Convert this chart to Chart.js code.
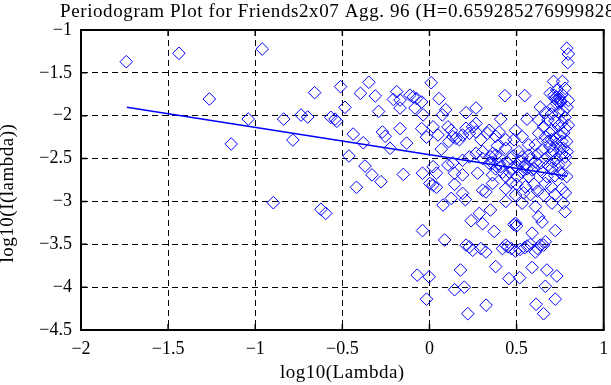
<!DOCTYPE html>
<html>
<head>
<meta charset="utf-8">
<script src="https://cdn.jsdelivr.net/npm/chart.js@4"></script>
<style>
  html, body { margin: 0; padding: 0; background: #fff; }
  #wrap { width: 611px; height: 385px; position: relative; }
</style>
</head>
<body>
<div id="wrap"><canvas id="chart"></canvas></div>
<script>
// periodogram points: log10(lambda) vs log10(I(lambda))
const logLambda = [
  -1.740, -1.438, -1.263, -1.138, -1.040, -0.960, -0.896, -0.837, -0.784, -0.737,
  -0.699, -0.659, -0.623, -0.595, -0.566, -0.542, -0.532, -0.510, -0.485, -0.462,
  -0.438, -0.419, -0.396, -0.380, -0.370, -0.348, -0.330, -0.311, -0.292, -0.278,
  -0.270, -0.254, -0.226, -0.207, -0.188, -0.169, -0.169, -0.169, -0.150, -0.131,
  -0.112, -0.093, -0.083, -0.074, -0.070, -0.045, -0.045, -0.040, -0.040, -0.036,
  -0.017, -0.017, -0.002, 0.010, 0.002, 0.021, 0.021, 0.020, 0.040, 0.040,
  0.049, 0.055, 0.068, 0.074, 0.078, 0.087, 0.093, 0.106, 0.106, 0.111,
  0.125, 0.125, 0.134, 0.134, 0.144, 0.144, 0.144, 0.153, 0.172, 0.178,
  0.190, 0.190, 0.190, 0.190, 0.200, 0.206, 0.210, 0.210, 0.210, 0.220,
  0.229, 0.229, 0.229, 0.239, 0.248, 0.248, 0.267, 0.267, 0.267, 0.267,
  0.276, 0.286, 0.295, 0.295, 0.305, 0.305, 0.305, 0.305, 0.325, 0.324,
  0.324, 0.333, 0.343, 0.343, 0.350, 0.352, 0.362, 0.362, 0.362, 0.371,
  0.380, 0.380, 0.380, 0.400, 0.400, 0.409, 0.409, 0.419, 0.433, 0.438,
  0.438, 0.438, 0.438, 0.438, 0.438, 0.456, 0.466, 0.475, 0.485, 0.485,
  0.494, 0.494, 0.494, 0.500, 0.494, 0.504, 0.513, 0.518, 0.532, 0.532,
  0.532, 0.541, 0.546, 0.547, 0.551, 0.560, 0.570, 0.570, 0.570, 0.589,
  0.589, 0.589, 0.608, 0.608, 0.608, 0.608, 0.612, 0.627, 0.627, 0.627,
  0.636, 0.636, 0.646, 0.646, 0.646, 0.655, 0.655, 0.655, 0.655, 0.665,
  0.665, 0.665, 0.665, 0.665, 0.665, 0.674, 0.674, 0.693, 0.693, 0.703,
  0.703, 0.703, 0.712, 0.712, 0.712, 0.722, 0.722, 0.722, 0.722, 0.731,
  0.731, 0.750, 0.750, 0.750, 0.759, 0.759, 0.763, 0.769, 0.769, 0.769,
  0.778, 0.778, 0.778, 0.778, 0.788, 0.788, 0.788, 0.794, 0.797, 0.797,
  0.797, 0.715, 0.727, 0.735, 0.745, 0.760, 0.730, 0.755, 0.450, 0.480,
  0.520, 0.550, 0.580, 0.600, 0.620, 0.460, 0.500, 0.530, 0.560, 0.640,
  0.680, 0.700, 0.730, 0.740, 0.760, 0.720, 0.780, 0.400, 0.420, 0.380,
  0.360, 0.390, 0.680, 0.700, 0.730, 0.750, 0.760, 0.770, 0.780, 0.790,
  0.710, 0.740, 0.690, 0.700, 0.720, 0.740, 0.760, 0.680, 0.790, 0.600,
  0.620, 0.700, 0.720, 0.780, 0.580, 0.500, 0.470, 0.540, 0.450, 0.470,
  0.520, 0.560, 0.580, 0.620
];
const logPower = [
  -1.370, -1.272, -1.805, -2.330, -2.039, -1.222, -3.015, -2.039, -2.284, -1.992,
  -2.015, -1.731, -3.092, -3.139, -2.019, -2.040, -2.065, -1.661, -1.902, -2.470,
  -2.214, -2.835, -1.739, -2.315, -2.587, -1.610, -2.690, -1.770, -1.950, -2.770,
  -2.190, -2.240, -2.380, -1.810, -1.720, -1.817, -1.910, -2.150, -2.685, -2.320,
  -1.760, -1.780, -1.910, -1.800, -3.860, -1.840, -2.150, -2.670, -3.340, -1.990,
  -2.250, -4.140, -3.880, -1.615, -2.790, -2.130, -2.595, -2.810, -2.835, -2.670,
  -2.225, -1.800, -2.390, -1.990, -3.042, -3.450, -1.930, -2.130, -2.575, -2.300,
  -2.170, -2.964, -2.245, -2.550, -2.670, -2.800, -4.030, -2.264, -2.280, -3.800,
  -2.225, -2.520, -2.690, -2.906, -4.000, -2.980, -1.965, -2.147, -3.510, -4.310,
  -2.205, -2.480, -3.530, -3.225, -2.130, -3.570, -1.910, -2.090, -2.190, -2.440,
  -2.670, -3.140, -2.280, -3.550, -2.420, -2.500, -2.870, -3.260, -4.210, -2.890,
  -3.590, -2.205, -2.170, -2.555, -3.100, -2.480, -2.440, -2.690, -2.790, -3.350,
  -2.240, -2.460, -3.760, -2.190, -2.480, -2.040, -2.595, -3.550, -1.766, -2.280,
  -2.380, -2.710, -2.850, -3.000, -3.510, -3.900, -2.500, -2.614, -2.280, -3.270,
  -2.170, -2.925, -3.255, -3.285, -3.580, -2.710, -2.420, -3.890, -2.245, -2.480,
  -3.020, -2.600, -3.540, -1.766, -2.830, -2.040, -2.340, -2.460, -2.710, -2.634,
  -3.370, -3.770, -2.340, -2.540, -3.060, -3.590, -4.200, -2.050, -2.205, -3.180,
  -1.900, -3.510, -2.400, -2.653, -3.240, -2.130, -2.925, -3.510, -4.310, -1.965,
  -2.245, -2.500, -2.790, -3.470, -3.990, -2.710, -3.800, -1.740, -2.360, -2.170,
  -2.614, -3.020, -1.600, -1.890, -2.540, -1.800, -2.264, -3.340, -4.140, -1.700,
  -3.870, -1.820, -2.225, -2.665, -2.447, -2.850, -1.600, -1.950, -2.380, -3.020,
  -1.680, -2.020, -2.555, -3.120, -1.214, -2.300, -2.710, -1.380, -1.280, -1.820,
  -2.110, -1.760, -1.780, -1.830, -1.790, -1.750, -1.860, -1.840, -2.550, -2.470,
  -2.530, -2.570, -2.500, -2.620, -2.450, -2.660, -2.600, -2.660, -2.620, -2.550,
  -2.580, -2.450, -2.500, -2.580, -2.680, -2.700, -2.480, -2.560, -2.660, -2.620,
  -2.550, -2.350, -2.300, -2.280, -2.330, -2.380, -2.300, -2.200, -2.150, -2.420,
  -2.410, -2.120, -2.200, -1.980, -2.060, -1.960, -2.080, -2.050, -1.900, -2.800,
  -2.880, -2.830, -2.920, -2.900, -2.920, -2.800, -2.780, -2.900, -3.530, -3.550,
  -3.560, -3.520, -3.500, -3.550
];
// least squares fit line end points
const fitX = [-1.737, 0.790];
const fitY = [-1.902, -2.706];

const xTicks = [-2, -1.5, -1, -0.5, 0, 0.5, 1];
const yTicks = [-4.5, -4, -3.5, -3, -2.5, -2, -1.5, -1];

const titleText = 'Periodogram Plot for Friends2x07 Agg. 96 (H=0.659285276999828)';
const xLabel = 'log10(Lambda)';
const yLabel = 'log10(I(lambda))';

const serif = '"Liberation Serif", "DejaVu Serif", serif';
const fmt = v => String(v).replace('-', '\u2212');

// box, inward ticks and text labels (matlab style)
const decor = {
  id: 'decor',
  afterDraw(chart) {
    const { ctx, chartArea: a, scales } = chart;
    ctx.save();
    ctx.strokeStyle = '#000';
    ctx.lineWidth = 1.5;
    xTicks.forEach(v => {
      const px = scales.x.getPixelForValue(v);
      ctx.beginPath();
      ctx.moveTo(px, a.bottom); ctx.lineTo(px, a.bottom - 6);
      ctx.moveTo(px, a.top); ctx.lineTo(px, a.top + 6);
      ctx.stroke();
    });
    yTicks.forEach(v => {
      const py = scales.y.getPixelForValue(v);
      ctx.beginPath();
      ctx.moveTo(a.left, py); ctx.lineTo(a.left + 6, py);
      ctx.moveTo(a.right, py); ctx.lineTo(a.right - 6, py);
      ctx.stroke();
    });
    ctx.lineWidth = 2;
    ctx.strokeRect(a.left, a.top, a.right - a.left, a.bottom - a.top);

    ctx.fillStyle = '#000';
    ctx.font = '19px ' + serif;
    ctx.letterSpacing = '0.6px';
    ctx.textAlign = 'left';
    ctx.textBaseline = 'alphabetic';
    ctx.fillText(titleText, 60, 17);

    ctx.letterSpacing = '0.5px';
    ctx.textAlign = 'center';
    ctx.fillText(xLabel, (a.left + a.right) / 2, 378);

    ctx.translate(13, 193);
    ctx.rotate(-Math.PI / 2);
    ctx.fillText(yLabel, 0, 0);
    ctx.restore();
  }
};

const noPad = s => { s.paddingLeft = 0; s.paddingRight = 0; s.paddingTop = 0; s.paddingBottom = 0; };

const points = logLambda.map((x, i) => ({ x, y: logPower[i] }));
const fitLine = fitX.map((x, i) => ({ x, y: fitY[i] }));

new Chart(document.getElementById('chart'), {
  type: 'scatter',
  data: {
    datasets: [
      {
        data: points,
        pointStyle: 'rectRot',
        pointRadius: 6.3,
        pointBorderWidth: 1,
        borderColor: '#0000ff',
        backgroundColor: 'rgba(0,0,0,0)',
        order: 2
      },
      {
        type: 'line',
        data: fitLine,
        borderColor: '#0000ff',
        borderWidth: 1.5,
        pointRadius: 0,
        fill: false,
        order: 1
      }
    ]
  },
  options: {
    responsive: true,
    maintainAspectRatio: false,
    animation: false,
    events: [],
    layout: { padding: { top: 30, right: 3, left: 0, bottom: 0 } },
    plugins: { legend: { display: false }, tooltip: { enabled: false }, title: { display: false } },
    scales: {
      x: {
        type: 'linear', min: -2, max: 1,
        afterBuildTicks: s => { s.ticks = xTicks.map(v => ({ value: v })); },
        afterFit: s => { s.height = 55; noPad(s); },
        ticks: { color: '#000', font: { family: serif, size: 18 }, padding: 8, maxRotation: 0, callback: v => fmt(v) },
        grid: { color: '#000', lineWidth: 1, drawTicks: false },
        border: { display: true, color: '#000', width: 2, dash: [6, 4] }
      },
      y: {
        type: 'linear', min: -4.5, max: -1,
        afterBuildTicks: s => { s.ticks = yTicks.map(v => ({ value: v })); },
        afterFit: s => { s.width = 81; noPad(s); },
        ticks: { color: '#000', font: { family: serif, size: 18 }, padding: 9, callback: v => fmt(v) },
        grid: { color: '#000', lineWidth: 1, drawTicks: false },
        border: { display: true, color: '#000', width: 2, dash: [6, 4] }
      }
    }
  },
  plugins: [decor]
});
</script>
</body>
</html>
